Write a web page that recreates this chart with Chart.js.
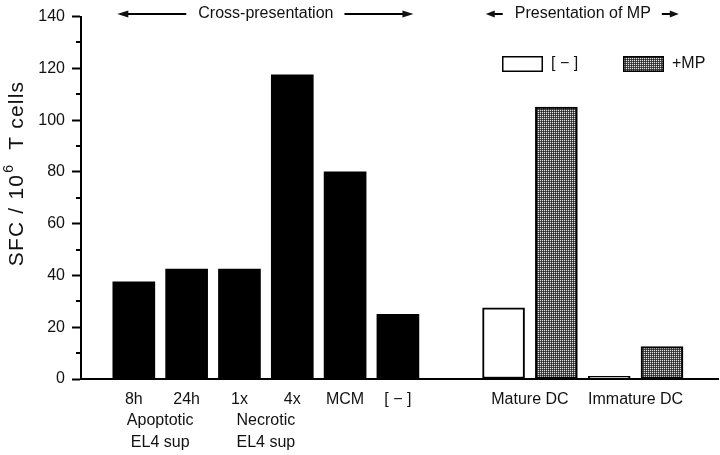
<!DOCTYPE html>
<html>
<head>
<meta charset="utf-8">
<script src="https://cdn.jsdelivr.net/npm/chart.js@4"></script>
<style>
  html, body { margin: 0; padding: 0; background: #fff; }
  #wrap { width: 720px; height: 455px; }
</style>
</head>
<body>
<div id="wrap"><canvas id="chart"></canvas></div>
<script>
// Chart data
const crossLabels = ['8h', '24h', '1x', '4x', 'MCM', '[ \u2212 ]'];
const crossValues = [37.5, 42.5, 42.5, 117.5, 80, 25];
const crossGroups = [['Apoptotic', 'EL4 sup'], ['Necrotic', 'EL4 sup']];
const dcLabels = ['Mature DC', 'Immature DC'];
const noMpValues = [27.5, 1];
const mpValues = [105, 12.5];
const seriesNames = ['[ \u2212 ]', '+MP'];
const yTicks = [0, 20, 40, 60, 80, 100, 120, 140];
const yMinorTicks = [10, 30, 50, 70, 90, 110, 130];

const FONT = '"Liberation Sans", Arial, Helvetica, sans-serif';
const INK = '#111';

// Slot layout: cross bars in slots 1..6, DC pairs from slot 8
const crossSlot = i => i + 1;
const dcSlot = (i, k) => 8 + 2 * i + k;

// Tick labels on the x axis
const xTickDefs = [];
crossLabels.forEach((l, i) => xTickDefs.push({ value: crossSlot(i), label: l }));
crossGroups.forEach((g, i) => xTickDefs.push({ value: crossSlot(2 * i) + 0.5, label: [''].concat(g) }));
dcLabels.forEach((l, i) => xTickDefs.push({ value: dcSlot(i, 0) + 0.5, label: l }));

// Dotted grey fill used for the +MP bars
function makePattern(ctx) {
    const c = document.createElement('canvas');
    c.width = 2;
    c.height = 2;
    const g = c.getContext('2d');
    g.fillStyle = '#4c4c4c';
    g.fillRect(0, 0, 2, 2);
    g.fillStyle = '#e4e4e4';
    g.fillRect(0, 0, 1, 1);
    g.fillStyle = '#2c2c2c';
    g.fillRect(1, 1, 1, 1);
    return ctx.createPattern(c, 'repeat');
}

const canvas = document.getElementById('chart');
const dots = makePattern(canvas.getContext('2d'));

function drawArrow(ctx, x1, x2, y, head) {
    const dir = x2 > x1 ? 1 : -1;
    ctx.beginPath();
    ctx.moveTo(x1, y);
    ctx.lineTo(x2 - dir * head * 0.8, y);
    ctx.stroke();
    ctx.beginPath();
    ctx.moveTo(x2, y);
    ctx.lineTo(x2 - dir * head, y - 3.5);
    ctx.lineTo(x2 - dir * head, y + 3.5);
    ctx.closePath();
    ctx.fill();
}

// Extra drawing: minor ticks, y title, section headers, legend
const overlay = {
    id: 'overlay',
    afterDraw(chart) {
        const ctx = chart.ctx;
        const x = chart.scales.x;
        const y = chart.scales.y;
        const left = chart.chartArea.left;
        ctx.save();
        ctx.strokeStyle = '#000';
        ctx.fillStyle = INK;
        ctx.lineWidth = 2;

        // minor ticks
        yMinorTicks.forEach(v => {
            const py = Math.round(y.getPixelForValue(v));
            ctx.beginPath();
            ctx.moveTo(left - 5, py);
            ctx.lineTo(left, py);
            ctx.stroke();
        });

        // y axis title with superscript
        ctx.save();
        ctx.translate(17, 174);
        ctx.rotate(-Math.PI / 2);
        ctx.textBaseline = 'middle';
        ctx.textAlign = 'left';
        ctx.letterSpacing = '1.2px';
        const big = '21px ' + FONT;
        const small = '14px ' + FONT;
        const p1 = 'SFC / 10';
        const p2 = '6';
        const p3 = '  T cells';
        ctx.font = big;
        const w1 = ctx.measureText(p1).width;
        const w3 = ctx.measureText(p3).width;
        ctx.font = small;
        const w2 = ctx.measureText(p2).width;
        let tx = -(w1 + w2 + w3) / 2;
        ctx.font = big;
        ctx.fillText(p1, tx, 0);
        tx += w1 + 1;
        ctx.font = small;
        ctx.fillText(p2, tx, -8);
        tx += w2;
        ctx.font = big;
        ctx.fillText(p3, tx, 0);
        ctx.restore();

        // section headers with arrows
        ctx.font = '16px ' + FONT;
        ctx.textAlign = 'center';
        ctx.textBaseline = 'middle';
        const headers = [
            { text: 'Cross-presentation', center: (crossSlot(0) + crossSlot(5)) / 2, arrow: 69, head: 11 },
            { text: 'Presentation of MP', center: (dcSlot(0, 0) + dcSlot(1, 1)) / 2, arrow: 17, head: 9 }
        ];
        headers.forEach(h => {
            const cx = x.getPixelForValue(h.center);
            const hy = 14;
            ctx.fillText(h.text, cx, hy);
            const half = ctx.measureText(h.text).width / 2;
            drawArrow(ctx, cx - half - 12, cx - half - 12 - h.arrow, hy, h.head);
            drawArrow(ctx, cx + half + 11, cx + half + 11 + h.arrow, hy, h.head);
        });

        // legend
        const items = [
            { label: seriesNames[0], fill: '#fff', bx: 502 },
            { label: seriesNames[1], fill: dots, bx: 623 }
        ];
        ctx.textAlign = 'left';
        items.forEach(it => {
            ctx.fillStyle = it.fill;
            ctx.fillRect(it.bx, 56, 41, 16);
            ctx.lineWidth = 1.5;
            ctx.strokeRect(it.bx + 0.75, 56.75, 39.5, 14.5);
            ctx.fillStyle = INK;
            ctx.fillText(it.label, it.bx + 49, 64);
        });
        ctx.restore();
    }
};

new Chart(canvas, {
    type: 'bar',
    data: {
        datasets: [
            {
                label: 'Cross-presentation',
                data: crossValues.map((v, i) => ({ x: crossSlot(i), y: v })),
                backgroundColor: '#000',
                borderWidth: 0
            },
            {
                label: seriesNames[0],
                data: noMpValues.map((v, i) => ({ x: dcSlot(i, 0), y: v })),
                backgroundColor: '#fff',
                borderColor: '#000',
                borderWidth: 2
            },
            {
                label: seriesNames[1],
                data: mpValues.map((v, i) => ({ x: dcSlot(i, 1), y: v })),
                backgroundColor: dots,
                borderColor: '#000',
                borderWidth: 2
            }
        ]
    },
    options: {
        responsive: true,
        maintainAspectRatio: false,
        animation: false,
        layout: { padding: { top: 16, right: 2, left: 0, bottom: 0 } },
        datasets: {
            bar: { barThickness: 42, grouped: false, borderSkipped: false }
        },
        scales: {
            x: {
                type: 'linear',
                offset: false,
                min: 0,
                max: 12.06,
                afterFit: scale => { scale.height = 76; },
                grid: { display: false, drawTicks: false },
                border: { display: true, color: '#000', width: 2 },
                afterBuildTicks: scale => {
                    scale.ticks = xTickDefs.map(t => ({ value: t.value }));
                },
                ticks: {
                    autoSkip: false,
                    maxRotation: 0,
                    minRotation: 0,
                    padding: 10,
                    color: INK,
                    font: { family: FONT, size: 16, lineHeight: 1.33 },
                    callback: value => {
                        const t = xTickDefs.find(d => d.value === value);
                        return t ? t.label : '';
                    }
                }
            },
            y: {
                min: 0,
                max: 140,
                afterFit: scale => { scale.width = 81; },
                afterBuildTicks: scale => {
                    scale.ticks = yTicks.map(v => ({ value: v }));
                },
                grid: {
                    drawOnChartArea: false,
                    drawTicks: true,
                    tickLength: 9,
                    tickWidth: 2,
                    tickColor: '#000'
                },
                border: { display: true, color: '#000', width: 2 },
                ticks: {
                    padding: 7,
                    color: INK,
                    font: { family: FONT, size: 16 }
                }
            }
        },
        plugins: {
            legend: { display: false },
            tooltip: { enabled: false }
        }
    },
    plugins: [overlay]
});
</script>
</body>
</html>
